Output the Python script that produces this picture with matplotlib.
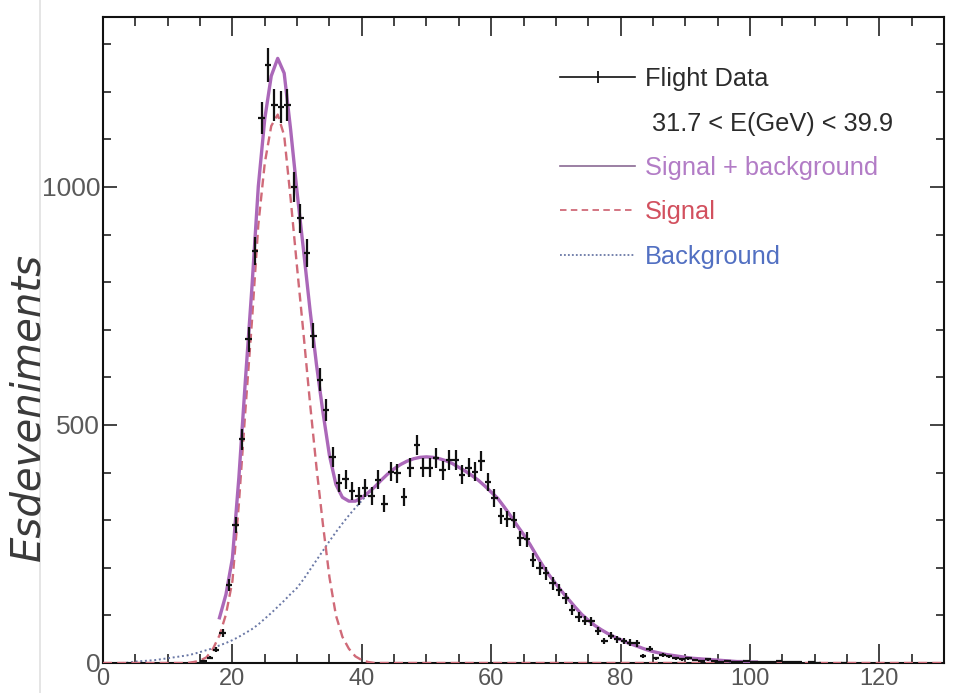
import numpy as np
import matplotlib
matplotlib.use("Agg")
import matplotlib.pyplot as plt
from matplotlib.lines import Line2D
from matplotlib.ticker import MultipleLocator

plt.rcParams['font.family'] = ['Liberation Sans', 'DejaVu Sans']

# histogram, 1 GeV bins (first bin centred at 15.5)
bin_centres = np.arange(15.5, 115.5, 1.0)
counts = np.array([
    5, 11, 28, 63, 163, 290, 470, 680, 865, 1145,          # 15.5 - 24.5
    1256, 1172, 1168, 1172, 1000, 934, 861, 687, 595, 532,  # 25.5 - 34.5
    433, 378, 386, 362, 350, 368, 350, 385, 335, 402,       # 35.5 - 44.5
    399, 349, 410, 458, 410, 410, 430, 405, 426, 426,       # 45.5 - 54.5
    395, 410, 402, 424, 380, 346, 309, 302, 300, 262,       # 55.5 - 64.5
    260, 216, 199, 188, 167, 153, 136, 111, 97, 89,         # 65.5 - 74.5
    88, 67, 46, 57, 50, 46, 43, 41, 15, 30,                 # 75.5 - 84.5
    10, 17, 14, 10, 8, 10, 6, 5, 8, 5,                      # 85.5 - 94.5
    3, 4, 3, 3, 4, 3, 3, 2, 2, 4,                           # 95.5 - 104.5
    3, 2, 2, 0, 2, 1, 0, 0, 0, 1,                           # 105.5 - 114.5
], dtype=float)

# fitted curves, one value per GeV from 0 to 130
curve_x = np.arange(0, 131)
signal = np.zeros(131)
signal[14:42] = [2, 5, 12, 30, 58, 102, 172, 335, 530, 715,
                 920, 1050, 1128, 1152, 1108, 975, 830, 690, 545, 410,
                 290, 180, 100, 55, 30, 14, 6, 2]
background = np.array([
    0, 0, 0, 0, 1, 3, 4, 5, 6, 8,
    10, 12, 14, 16, 19, 23, 27, 31, 37, 42,
    48, 55, 63, 71, 81, 93, 105, 118, 131, 145,
    158, 176, 196, 216, 236, 256, 275, 293, 310, 326,
    341, 356, 370, 384, 397, 408, 417, 424, 429, 432,
    433, 432, 429, 425, 419, 411, 403, 394, 384, 372,
    359, 346, 328, 309, 289, 270, 249, 226, 204, 184,
    166, 149, 133, 117, 102, 90, 79, 70, 62, 55,
    49, 43, 38, 33, 28, 24, 21, 18, 16, 14,
    12, 10, 9, 8, 7, 6, 5, 4, 3, 3,
    2, 2, 2, 1, 1, 1, 1, 1] + [0] * 23, dtype=float)
fit_lo, fit_hi = 18, 101

labels = ["Flight Data", " 31.7 < E(GeV) < 39.9", "Signal + background",
          "Signal", "Background"]
text_colours = ["#2b2b2b", "#2b2b2b", "#b27cc6", "#d2505e", "#5270c2"]

c_total = "#ab68b9"
c_sig = "#d06a78"
c_bg = "#6a78a6"

fig = plt.figure(figsize=(9.55, 6.93), dpi=100)
ax = fig.add_axes([0.1079, 0.0433, 0.8806, 0.9322])

# faint page edge of the scan
fig.add_artist(Line2D([40 / 955, 40 / 955], [0, 1], transform=fig.transFigure,
                      color="#e0e0e0", lw=1.2))

bg_line, = ax.plot(curve_x, background, color=c_bg, lw=1.4, ls=(0, (1, 1.4)), zorder=2)
sig_line, = ax.plot(curve_x, signal, color=c_sig, lw=1.7, ls=(0, (3.8, 2.2)), zorder=3)
in_fit = (curve_x >= fit_lo) & (curve_x <= fit_hi)
tot_line, = ax.plot(curve_x[in_fit], signal[in_fit] + background[in_fit],
                    color=c_total, lw=2.4, zorder=3, solid_joinstyle="round")

has = counts > 0
ax.errorbar(bin_centres[has], counts[has], xerr=0.5, yerr=np.sqrt(counts[has]),
            fmt="none", ecolor="#111111", elinewidth=1.6, capsize=0, zorder=4)

ax.set_xlim(0, 130)
ax.set_ylim(0, 1357)
ax.xaxis.set_major_locator(MultipleLocator(20))
ax.xaxis.set_minor_locator(MultipleLocator(5))
ax.yaxis.set_major_locator(MultipleLocator(500))
ax.yaxis.set_minor_locator(MultipleLocator(100))
ax.tick_params(axis="both", which="both", direction="in", top=True, right=True,
               width=1.1, colors="#111111")
ax.tick_params(axis="x", which="major", length=13.5, pad=3.5, labelsize=17,
               labelcolor="#555555")
ax.tick_params(axis="x", which="minor", length=6.8)
ax.tick_params(axis="y", which="major", length=10, pad=2, labelsize=19,
               labelcolor="#5a5a5a")
ax.tick_params(axis="y", which="minor", length=5.8)
for s in ax.spines.values():
    s.set_linewidth(1.5)
    s.set_color("#111111")

fig.text(28 / 955, 1 - 407 / 693, "Esdeveniments", rotation=90, ha="center",
         va="center", fontsize=29, style="italic", color="#3a3a3a",
         family=["DejaVu Sans"])

data_handle = Line2D([], [], color="#111111", lw=1.2, marker="|", markersize=9, mew=1.3)
blank = Line2D([], [], alpha=0)
tot_handle = Line2D([], [], color="#8a6a94", lw=1.2)
sig_handle = Line2D([], [], color=c_sig, lw=1.3, ls=(0, (3.6, 2.4)))
bg_handle = Line2D([], [], color=c_bg, lw=1.3, ls=(0, (1, 1.2)))
leg = ax.legend([data_handle, blank, tot_handle, sig_handle, bg_handle], labels,
                loc="upper left", bbox_to_anchor=(0.5434, 0.922), frameon=False,
                fontsize=18.3, handlelength=2.95, handletextpad=0.4,
                labelspacing=0.8, borderaxespad=0, borderpad=0, numpoints=1)
for t, c in zip(leg.get_texts(), text_colours):
    t.set_color(c)

fig.savefig("out.png", dpi=100)
